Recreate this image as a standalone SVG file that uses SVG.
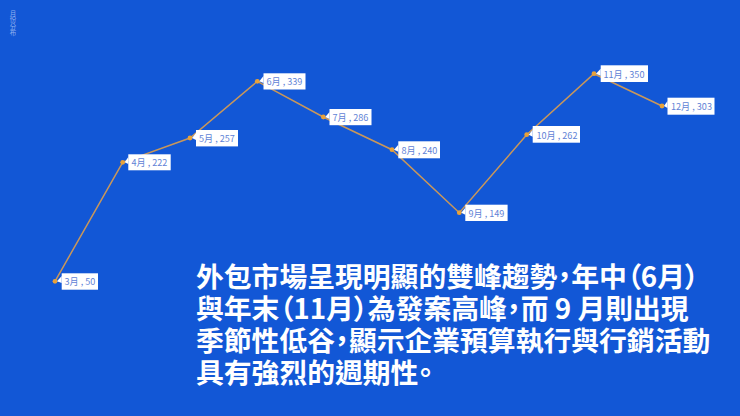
<svg xmlns="http://www.w3.org/2000/svg" width="740" height="416" viewBox="0 0 740 416">
<style>
.c{font-family:"Noto Sans CJK TC","Noto Sans",sans-serif}
.l{font-size:9.1px;fill:#5f83d6}
.b{fill:#fff}
.d{fill:#e8a23a}
.t{font-size:27.8px;font-weight:700;fill:#fff;font-feature-settings:"palt"}
</style>
<rect width="740" height="416" fill="#1257d6"/>
<text class="c" x="13" y="10" font-size="6.5" fill="#8fb0ee" style="writing-mode:vertical-rl">月份分布</text>
<g id="connectors"><polyline points="55,281.3 122.7,162.3 190,138 257.3,81.3 323.3,117 392,149.7 459.3,212.7 526.7,134.7 594,73.7 662,106" fill="none" stroke="#c9975a" stroke-width="1.5"/></g>
<g id="n3"><circle class="d" cx="55" cy="281.3" r="2.4"/><path class="b" d="M61.7 276 L57 281.3 L61.7 283Z"/><rect class="b" x="61.7" y="273.3" width="36.3" height="16.4"/><text class="c l" x="64.5" y="285">3月 , 50</text></g>
<g id="n4"><circle class="d" cx="122.7" cy="162.3" r="2.4"/><path class="b" d="M128.3 157 L124.7 162.3 L128.3 164Z"/><rect class="b" x="128.3" y="154.3" width="42.4" height="16"/><text class="c l" x="131.5" y="166">4月 , 222</text></g>
<g id="n5"><circle class="d" cx="190" cy="138" r="2.4"/><path class="b" d="M196 133 L192 138 L196 140Z"/><rect class="b" x="196" y="130" width="42" height="16.4"/><text class="c l" x="199" y="142">5月 , 257</text></g>
<g id="n6"><circle class="d" cx="257.3" cy="81.3" r="2.4"/><path class="b" d="M263.5 76 L259.3 81.3 L263.5 83Z"/><rect class="b" x="263.5" y="73.3" width="42" height="16.2"/><text class="c l" x="266.5" y="85">6月 , 339</text></g>
<g id="n7"><circle class="d" cx="323.3" cy="117" r="2.4"/><path class="b" d="M329.5 112 L325.3 117 L329.5 119Z"/><rect class="b" x="329.5" y="109" width="42" height="16.2"/><text class="c l" x="332.5" y="121">7月 , 286</text></g>
<g id="n8"><circle class="d" cx="392" cy="149.7" r="2.4"/><path class="b" d="M398.3 144.7 L394 149.7 L398.3 151.7Z"/><rect class="b" x="398.3" y="141.3" width="41.7" height="17"/><text class="c l" x="401.5" y="153.5">8月 , 240</text></g>
<g id="n9"><circle class="d" cx="459.3" cy="212.7" r="2.4"/><path class="b" d="M465.3 207.7 L461.3 212.7 L465.3 214.7Z"/><rect class="b" x="465.3" y="204.7" width="42.3" height="16.3"/><text class="c l" x="468.5" y="216.5">9月 , 149</text></g>
<g id="n10"><circle class="d" cx="526.7" cy="134.7" r="2.4"/><path class="b" d="M532.7 129.7 L528.7 134.7 L532.7 136.7Z"/><rect class="b" x="532.7" y="126" width="47.3" height="16.7"/><text class="c l" x="536.5" y="138.5">10月 , 262</text></g>
<g id="n11"><circle class="d" cx="594" cy="73.7" r="2.4"/><path class="b" d="M600.7 68.7 L596 73.7 L600.7 75.7Z"/><rect class="b" x="600.7" y="65.3" width="47.3" height="16.7"/><text class="c l" x="603.5" y="77.5">11月 , 350</text></g>
<g id="n12"><circle class="d" cx="662" cy="106" r="2.4"/><path class="b" d="M667.5 101 L664 106 L667.5 108Z"/><rect class="b" x="667.5" y="97.7" width="47" height="17"/><text class="c l" x="671" y="110">12月 , 303</text></g>
<g id="caption" class="c t">
<text x="196" y="287">外包市場呈現明顯的雙峰趨勢，年中（6月）</text>
<text x="196" y="319">與年末（11月）為發案高峰，而 9 月則出現</text>
<text x="196" y="351">季節性低谷，顯示企業預算執行與行銷活動</text>
<text x="196" y="383">具有強烈的週期性。</text>
</g>
</svg>
